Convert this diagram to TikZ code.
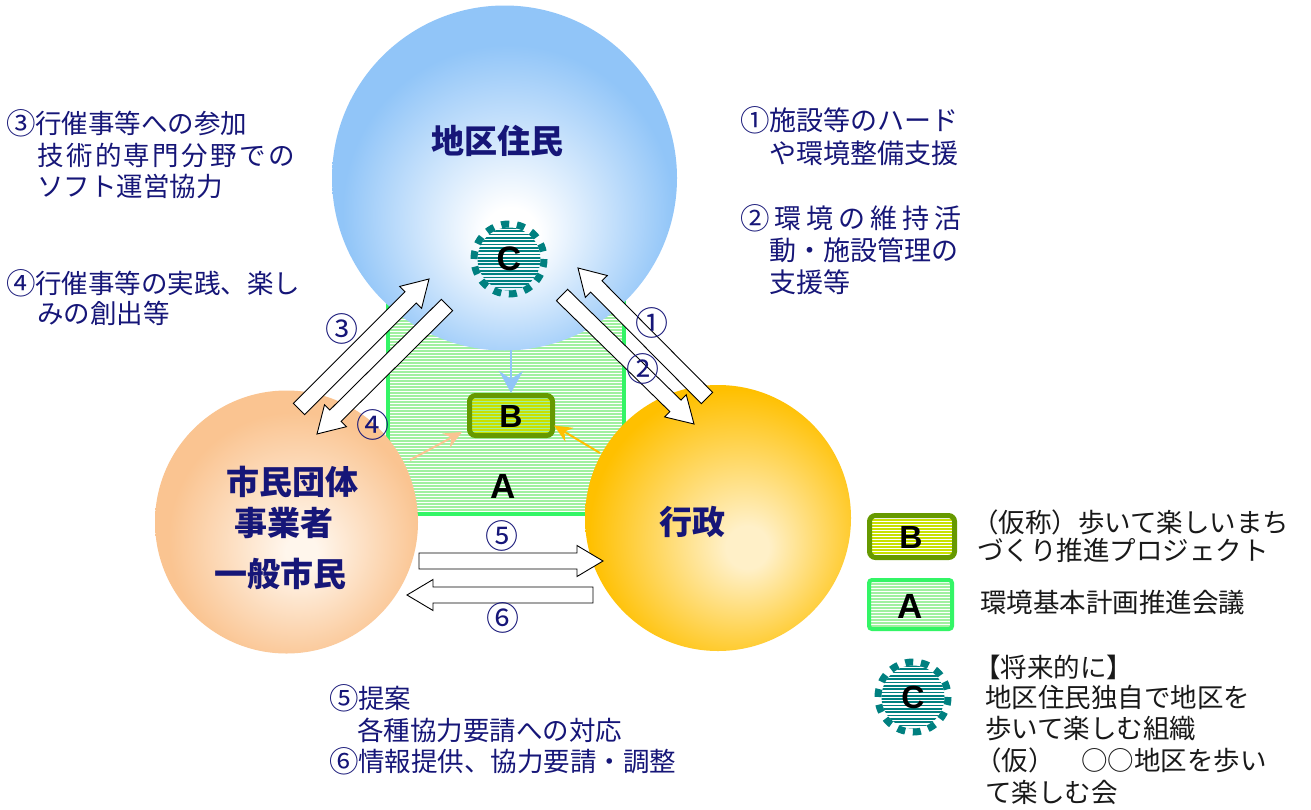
\documentclass[tikz,border=0pt]{standalone}
\usepackage{fontspec}
\setmainfont{Noto Sans CJK JP}
\newfontfamily\latinb{Liberation Sans}
\usetikzlibrary{calc,arrows.meta}

\definecolor{navyc}{RGB}{22,22,120}
\definecolor{legtext}{RGB}{25,25,25}
\definecolor{cblue}{RGB}{145,197,248}
\definecolor{cpeach}{RGB}{250,196,145}
\definecolor{peachlight}{RGB}{255,246,236}
\definecolor{cyell}{RGB}{255,192,0}
\definecolor{yelllight}{RGB}{255,240,200}
\definecolor{agreen}{RGB}{51,245,102}
\definecolor{astripe}{RGB}{160,240,160}
\definecolor{bborder}{RGB}{102,153,0}
\definecolor{bstripe}{RGB}{200,225,0}
\definecolor{cteal}{RGB}{0,128,128}

\pgfdeclareradialshading{blueball}{\pgfpoint{1bp}{-9bp}}{color(0bp)=(white); color(4bp)=(white); color(24bp)=(cblue); color(50bp)=(cblue)}
\pgfdeclareradialshading{peachball}{\pgfpoint{3bp}{-6bp}}{color(0bp)=(peachlight); color(3bp)=(peachlight); color(24bp)=(cpeach); color(50bp)=(cpeach)}
\pgfdeclareradialshading{yellball}{\pgfpoint{6bp}{-6bp}}{color(0bp)=(yelllight); color(4bp)=(yelllight); color(27bp)=(cyell); color(50bp)=(cyell)}

% slightly enlarged circled digit with its own advance
\newcommand\cnum[1]{\makebox[1.1em][c]{\raisebox{-1pt}{\fontsize{29.5}{30}\selectfont #1}}}

\tikzset{
  txt/.style={anchor=west, inner sep=0pt},
  navyA/.style={txt, text=navyc, text height=23.3pt, text depth=3.2pt, font=\fontsize{26.5}{28}\selectfont},
  navyR/.style={txt, text=navyc, text height=23.8pt, text depth=3.2pt, font=\fontsize{27}{28}\selectfont},
  legtxt/.style={txt, text=legtext, text height=23.3pt, text depth=3.2pt, font=\fontsize{26.5}{28}\selectfont},
  numlbl/.style={inner sep=0pt, text=navyc, font=\fontsize{33}{34}\selectfont},
  circlbl/.style={inner sep=0pt, text=navyc, text height=29pt, text depth=4pt, font=\fontsize{33}{35}\selectfont\bfseries},
  letter/.style={inner sep=0pt, text=black, font=\latinb\bfseries\fontsize{#1}{#1}\selectfont},
  blk/.style={fill=white, draw=black, line width=0.9pt, line join=miter},
  ball/.style={circle, inner sep=0pt, minimum size=#1},
  boxAst/.style={draw=agreen, line width=4pt, rounded corners=3pt, inner sep=0pt},
  boxBst/.style={draw=bborder, line width=5pt, rounded corners=6pt, inner sep=0pt},
  thinarr/.style={line width=2pt, -{Stealth[length=18pt,width=16pt,inset=6pt]}},
  bigthinarr/.style={line width=2.5pt, -{Stealth[length=22pt,width=24pt,inset=8pt]}},
}

\newcommand\hstripes[5]{%
  \begin{scope}
    \clip (#1,#2) rectangle (#3,#4);
    \foreach \k in {0,...,80} \draw[#5] (#1,{#2+1+3*\k}) -- (#3,{#2+1+3*\k});
  \end{scope}}

\newcommand\cbadge[4]{% name, x, y, letter size
  \begin{scope}[shift={(#2,#3)}]
    \begin{scope}
      \clip (0,0) circle (31.5);
      \foreach \k in {0,...,19} \draw[cteal, line width=1.7pt] (-33,{-31+3.3*\k}) -- (33,{-31+3.3*\k});
    \end{scope}
    \draw[cteal, line width=7pt, dash pattern=on 8pt off 7.71pt] (0,0) circle (35);
    \node[letter=#4] (#1) at (0,0) {C};
  \end{scope}}

\newcommand\blockarr[3]{% tail, tip, helper name
  \coordinate (#3) at ($(#2)!26pt!(#1)$);
  \filldraw[blk] ($(#1)!8pt!90:(#2)$) -- ($(#3)!8pt!90:(#2)$) -- ($(#3)!15.5pt!90:(#2)$)
    -- (#2) -- ($(#3)!15.5pt!-90:(#2)$) -- ($(#3)!8pt!-90:(#2)$) -- ($(#1)!8pt!-90:(#2)$) -- cycle;}

\begin{document}
\begin{tikzpicture}[x=1pt,y=-1pt]
\useasboundingbox (0,0) rectangle (1311,809);
\fill[white] (0,0) rectangle (1311,809);

% ---- A : environment council (striped green rectangle)
\hstripes{388}{290}{624}{514}{astripe, line width=1.2pt}
\draw[agreen, line width=4pt] (388,290) rectangle (624,514);
\node[letter=35] (Alabel) at (503,486) {A};

% ---- three circles
\node[ball=345, shade, shading=blueball] (resid) at (504.5,178) {};
\node[ball=263, shade, shading=peachball] (citizen) at (286.5,522) {};
\node[ball=266, shade, shading=yellball] (gov) at (718,518) {};

\node[circlbl] (residlbl) at (497,141) {地区住民};
\node[circlbl] (cit1) at (292,482) {市民団体};
\node[circlbl] (cit2) at (284,523) {事業者};
\node[circlbl] (cit3) at (280,574) {一般市民};
\node[circlbl] (govlbl) at (692,522) {行政};

% ---- B : project box
\hstripes{470}{396}{552}{435}{bstripe, line width=1.4pt}
\node[boxBst, minimum width=83pt, minimum height=40pt] (boxB) at (511,415.5) {};
\node[letter=32] (Blabel) at (511,416) {B};

% ---- C badge in the residents circle
\cbadge{cbig}{509}{259}{34}

% ---- thin arrows into B
\coordinate (bluefoot) at (511,350);
\coordinate (peachfoot) at (410,460);
\coordinate (yellfoot) at (600,453);
\draw[bigthinarr, cblue] (bluefoot) -- (boxB.north);
\draw[thinarr, cpeach] (peachfoot) -- ([shift={(-5,-6)}]boxB.south west);
\draw[thinarr, cyell] (yellfoot) -- ([shift={(-1,10)}]boxB.east);

% ---- block arrows
\coordinate (a3tail) at (299,409); \coordinate (a3tip) at (429,279);
\coordinate (a4tail) at (447,305); \coordinate (a4tip) at (317,434);
\coordinate (a1tail) at (707,398); \coordinate (a1tip) at (578,268);
\coordinate (a2tail) at (562,295); \coordinate (a2tip) at (694,424);
\coordinate (a5tail) at (419,561); \coordinate (a5tip) at (603,561);
\coordinate (a6tail) at (593,595); \coordinate (a6tip) at (407,595);
\blockarr{a3tail}{a3tip}{a3h}
\blockarr{a4tail}{a4tip}{a4h}
\blockarr{a1tail}{a1tip}{a1h}
\blockarr{a2tail}{a2tip}{a2h}
\blockarr{a5tail}{a5tip}{a5h}
\blockarr{a6tail}{a6tip}{a6h}

\node[numlbl] (n3) at (342,329) {③};
\node[numlbl] (n4) at (373,425) {④};
\node[numlbl] (n1) at (652,323) {①};
\node[numlbl] (n2) at (643,369) {②};
\node[numlbl] (n5) at (502,536) {⑤};
\node[numlbl] (n6) at (503,618) {⑥};

% ---- left texts
\node[navyA] (L1) at (6,123) {\cnum{③}行催事等への参加};
\node[navyA] (L2) at (37,155) {\hbox to 258pt{技\hfil 術\hfil 的\hfil 専\hfil 門\hfil 分\hfil 野\hfil で\hfil の}};
\node[navyA] (L3) at (37,186) {ソフト運営協力};
\node[navyA] (L4) at (6,283) {\cnum{④}行催事等の実践、楽し};
\node[navyA] (L5) at (37,313) {みの創出等};

% ---- right texts
\node[navyR] (R1) at (740,120) {\cnum{①}施設等のハード};
\node[navyR] (R2) at (769,153) {や環境整備支援};
\node[navyR] (R3) at (740,218) {\hbox to 221pt{\cnum{②}\hfil 環\hfil 境\hfil の\hfil 維\hfil 持\hfil 活}};
\node[navyR] (R4) at (769,250) {動・施設管理の};
\node[navyR] (R5) at (769,282) {支援等};

% ---- bottom texts
\node[navyA] (D1) at (329,698) {\cnum{⑤}提案};
\node[navyA] (D2) at (357,730) {各種協力要請への対応};
\node[navyA] (D3) at (329,761) {\cnum{⑥}情報提供、協力要請・調整};

% ---- legend
\hstripes{870}{516}{954}{557}{bstripe, line width=1.4pt}
\node[boxBst, minimum width=85pt, minimum height=42pt] (legB) at (912,536.5) {};
\node[letter=32] (legBl) at (911,537) {B};
\hstripes{869}{580}{952}{629}{astripe, line width=1.2pt}
\node[boxAst, minimum width=83pt, minimum height=49pt] (legA) at (910.5,604.5) {};
\node[letter=35] (legAl) at (910,606) {A};
\cbadge{legC}{913}{697}{32}

\node[legtxt] (G1) at (972,522) {（仮称）歩いて楽しいまち};
\node[legtxt] (G2) at (977,550) {づくり推進プロジェクト};
\node[legtxt] (G3) at (980,602) {環境基本計画推進会議};
\node[legtxt] (G4) at (974,667) {【将来的に】};
\node[legtxt] (G5) at (985,697) {地区住民独自で地区を};
\node[legtxt] (G6) at (985,728) {歩いて楽しむ組織};
\node[legtxt] (G7) at (975,760) {（仮）　○○地区を歩い};
\node[legtxt] (G8) at (985,792) {て楽しむ会};
\end{tikzpicture}
\end{document}
